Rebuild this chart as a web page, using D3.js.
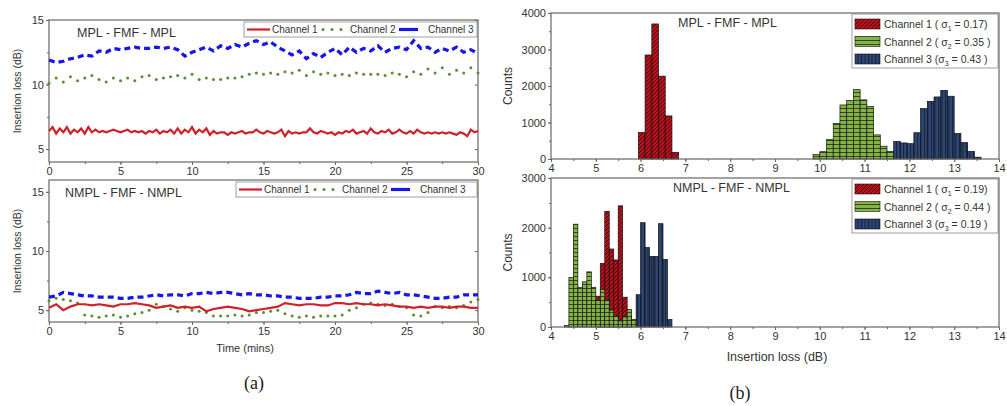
<!DOCTYPE html>
<html>
<head>
<meta charset="utf-8">
<script src="https://cdn.jsdelivr.net/npm/d3@7"></script>
<style>
  body { margin: 0; background: #fff; }
  svg { font-family: 'Liberation Sans', Arial, sans-serif; }
</style>
</head>
<body>
<svg id="chart"></svg>
<script>
//Time series data (insertion loss in dB)
const timeTicks = [0, 5, 10, 15, 20, 25, 30];
const fineStep = 0.25; //sampling of MPL channel 1
const coarseStep = 0.5; //sampling of the other traces

const mplCh1 = [
  6.4, 6.7, 6.2, 6.6, 6.3, 6.7, 6.2, 6.5, 6.3, 6.6, 6.2, 6.7, 6.3,
  6.5, 6.3, 6.4, 6.3, 6.4, 6.5, 6.4, 6.3, 6.4, 6.5, 6.3, 6.4,
  6.3, 6.4, 6.2, 6.4, 6.3, 6.5, 6.2, 6.4, 6.3, 6.5, 6.2, 6.6,
  6.2, 6.5, 6.3, 6.7, 6.2, 6.5, 6.3, 6.6, 6.1, 6.4, 6.2, 6.3,
  6.3, 6.1, 6.3, 6.2, 6.3, 6.4, 6.2, 6.3, 6.3, 6.5, 6.3, 6.2,
  6.4, 6.3, 6.2, 6.3, 6.5, 6.0, 6.4, 6.2, 6.3, 6.2, 6.3, 6.3,
  6.6, 6.3, 6.2, 6.4, 6.3, 6.2, 6.3, 6.1, 6.3, 6.2, 6.4, 6.3,
  6.5, 6.2, 6.3, 6.4, 6.2, 6.6, 6.3, 6.2, 6.4, 6.3, 6.5, 6.2,
  6.3, 6.5, 6.3, 6.2, 6.4, 6.2, 6.5, 6.3, 6.2, 6.3, 6.2, 6.3,
  6.2, 6.3, 6.2, 6.3, 6.2, 6.1, 6.3, 6.2, 6.0, 6.5, 6.3, 6.4
];
const mplCh2 = [
  10.1, 10.5, 10.2, 10.6, 10.3, 10.5, 10.7, 10.4, 10.2, 10.5, 10.3,
  10.5, 10.3, 10.6, 10.7, 10.4, 10.5, 10.6, 10.7, 10.5, 10.8,
  10.4, 10.5, 10.4, 10.4, 10.5, 10.5, 10.6, 10.8, 10.9, 10.8,
  10.9, 10.8, 11.0, 10.9, 11.1, 10.7, 11.0, 10.8, 10.9, 10.7,
  10.8, 10.7, 10.9, 10.8, 10.8, 10.8, 10.7, 10.9, 10.8, 10.6,
  11.0, 10.8, 11.2, 10.9, 11.3, 10.8, 11.1, 10.9, 11.3, 10.9
];
const mplCh3 = [
  11.9, 11.7, 11.8, 12.0, 12.1, 12.3, 12.2, 12.6, 12.5, 12.8, 12.7,
  12.8, 12.9, 12.8, 12.8, 12.9, 12.8, 12.9, 12.7, 12.2, 12.5,
  12.7, 12.9, 12.6, 13.0, 12.8, 13.1, 12.9, 13.2, 13.4, 13.1,
  13.3, 12.9, 12.6, 12.3, 12.6, 12.0, 12.4, 12.1, 12.5, 12.8,
  12.3, 12.9, 12.5, 12.8, 12.6, 13.0, 12.5, 12.8, 12.9, 12.7,
  13.4, 12.8, 12.9, 12.5, 12.8, 12.6, 12.9, 12.5, 12.7, 12.4
];
const nmplCh1 = [
  5.2, 5.5, 5.0, 5.3, 5.5, 5.5, 5.4, 5.5, 5.4, 5.3, 5.5,
  5.5, 5.6, 5.5, 5.4, 5.2, 5.3, 5.4, 5.2, 5.3, 5.2,
  5.3, 4.9, 5.1, 5.2, 5.3, 5.2, 5.1, 4.9, 5.0, 5.1,
  5.2, 5.3, 5.6, 5.5, 5.4, 5.5, 5.5, 5.4, 5.4, 5.6,
  5.6, 5.5, 5.6, 5.5, 5.5, 5.4, 5.5, 5.4, 5.3, 5.3,
  5.2, 5.3, 5.2, 5.3, 5.3, 5.2, 5.3, 5.3, 5.2, 5.2
];
const nmplCh2 = [
  5.8, 6.0, 5.9, 5.8, 5.6, 4.6, 4.5, 4.4, 4.5, 4.6, 4.4,
  4.5, 4.7, 4.8, 5.0, 5.5, 5.3, 5.1, 4.9, 5.2, 5.0,
  4.9, 4.8, 4.5, 4.5, 4.5, 4.6, 4.5, 4.6, 4.8, 4.8,
  4.9, 5.0, 4.7, 4.5, 4.4, 4.5, 4.4, 4.5, 4.5, 4.5,
  4.6, 5.0, 5.2, 5.5, 5.6, 5.5, 5.4, 5.5, 5.3, 5.2,
  4.6, 4.5, 4.8, 5.3, 5.2, 5.3, 5.2, 5.4, 5.7, 5.9
];
const nmplCh3 = [
  6.1, 6.2, 6.5, 6.4, 6.3, 6.2, 6.2, 6.1, 6.1, 6.1, 6.0,
  6.0, 6.1, 6.1, 6.2, 6.3, 6.2, 6.3, 6.3, 6.2, 6.4,
  6.4, 6.5, 6.4, 6.5, 6.5, 6.4, 6.3, 6.4, 6.3, 6.3,
  6.2, 6.2, 6.1, 6.1, 6.0, 6.0, 6.0, 6.1, 6.1, 6.2,
  6.2, 6.3, 6.5, 6.4, 6.4, 6.6, 6.5, 6.4, 6.5, 6.3,
  6.3, 6.2, 6.1, 6.0, 6.0, 6.1, 6.1, 6.3, 6.3, 6.3
];

//Histogram data (counts per bin)
const lossTicks = [4, 5, 6, 7, 8, 9, 10, 11, 12, 13, 14];
const mplBinWidth = 0.15;
const mplHistCh1Start = 5.95;
const mplHistCh1 = [730, 2850, 3700, 2270, 1180, 180];
const mplHistCh2Start = 9.85;
const mplHistCh2 = [120, 200, 530, 970, 1480, 1600, 1900, 1620, 1440, 660, 350, 210];
const mplHistCh3Start = 11.65;
const mplHistCh3 = [480, 440, 420, 720, 1380, 1580, 1700, 1880, 1720, 700, 450, 210, 50];
const nmplBinWidth = 0.1;
const nmplHistCh1Start = 5.0;
const nmplHistCh1 = [620, 1280, 2330, 1570, 1350, 2440, 600, 220];
const nmplHistCh2Start = 4.3;
const nmplHistCh2 = [30, 1000, 2070, 800, 910, 1110, 800, 540, 760, 540, 340, 210, 120, 200, 350, 150];
const nmplHistCh3Start = 5.9;
const nmplHistCh3 = [650, 2100, 1600, 1420, 1420, 2080, 1360, 150];

const mplSigmas = ['0.17', '0.35', '0.43'];
const nmplSigmas = ['0.19', '0.44', '0.19'];

const width = 1007;
const height = 406;
const textColor = '#333';
const frameColor = '#666';

const svg = d3
  .select('#chart')
  .attr('width', width)
  .attr('height', height);

//Hatch patterns for the histogram bars
const defs = svg.append('defs');
function addPattern(id, w, h, fill, d, stroke) {
  const p = defs
    .append('pattern')
    .attr('id', id)
    .attr('patternUnits', 'userSpaceOnUse')
    .attr('width', w)
    .attr('height', h);
  p.append('rect').attr('width', w).attr('height', h).attr('fill', fill);
  p.append('path').attr('d', d).attr('stroke', stroke).attr('stroke-width', 0.8);
}
addPattern('hatchRed', 4, 4, '#b5131b', 'M-1,1 l2,-2 M0,4 l4,-4 M3,5 l2,-2', '#3a0000');
addPattern('hatchGreen', 8, 4, '#84b446', 'M0,0.5 h8', '#1e2b0e');
addPattern('hatchBlue', 3.5, 8, '#2f4672', 'M0.5,0 v8', '#0e182e');

//Shared axis styling
function styleAxis(g) {
  g.select('.domain').remove();
  g.selectAll('line').attr('stroke', frameColor);
  g.selectAll('text').attr('fill', textColor).style('font-size', '11px');
}

function minorTicks(lo, hi, step) {
  return d3.range(lo, hi + step / 2, step);
}

//Left panels: insertion loss vs time
function drawTimePanel(opt) {
  const x = d3.scaleLinear().domain([0, 30]).range([49, 478]);
  const y = d3.scaleLinear().domain(opt.yDomain).range([opt.bottom, opt.top]);
  const g = svg.append('g');

  g.append('g')
    .attr('transform', `translate(0,${opt.bottom})`)
    .call(d3.axisBottom(x).tickValues(minorTicks(0, 30, 2.5)).tickFormat('').tickSize(2))
    .call(styleAxis);
  g.append('g')
    .attr('transform', `translate(0,${opt.bottom})`)
    .call(d3.axisBottom(x).tickValues(timeTicks).tickSize(3).tickPadding(2))
    .call(styleAxis);
  g.append('g')
    .attr('transform', 'translate(49,0)')
    .call(d3.axisLeft(y).tickValues(minorTicks(5, 15, 2.5)).tickFormat('').tickSize(2))
    .call(styleAxis);
  g.append('g')
    .attr('transform', 'translate(49,0)')
    .call(d3.axisLeft(y).tickValues([5, 10, 15]).tickSize(3).tickPadding(2))
    .call(styleAxis);
  g.append('g')
    .attr('transform', 'translate(478,0)')
    .call(d3.axisLeft(y).tickValues([5, 10, 15]).tickFormat('').tickSize(3))
    .call(styleAxis);

  g.append('rect')
    .attr('x', x(0))
    .attr('y', y(opt.yDomain[1]))
    .attr('width', x(30) - x(0))
    .attr('height', y(opt.yDomain[0]) - y(opt.yDomain[1]))
    .attr('fill', 'none')
    .attr('stroke', frameColor)
    .attr('stroke-width', 1.2);

  const line = step =>
    d3
      .line()
      .x((d, i) => x(i * step))
      .y(d => y(d));

  g.append('path')
    .attr('d', line(coarseStep)(opt.ch3))
    .attr('fill', 'none')
    .attr('stroke', '#1616e8')
    .attr('stroke-width', 3.2)
    .attr('stroke-dasharray', '6,4');

  g.selectAll('circle.ch2')
    .data(opt.ch2)
    .enter()
    .append('circle')
    .attr('class', 'ch2')
    .attr('cx', (d, i) => x(i * coarseStep))
    .attr('cy', d => y(d))
    .attr('r', 1.5)
    .attr('fill', '#5e8c36');

  g.append('path')
    .attr('d', line(opt.ch1Step)(opt.ch1))
    .attr('fill', 'none')
    .attr('stroke', '#d0202a')
    .attr('stroke-width', 2.2);

  //Title
  g.append('text')
    .attr('x', opt.titleX)
    .attr('y', opt.top + 17)
    .attr('fill', textColor)
    .style('font-size', '12.5px')
    .text(opt.title);

  //Legend (one row)
  const lx = opt.legendX;
  const ly = opt.top + 2;
  g.append('rect')
    .attr('x', lx)
    .attr('y', ly)
    .attr('width', 477 - lx)
    .attr('height', 15)
    .attr('fill', '#fff')
    .attr('stroke', '#888')
    .attr('stroke-width', 0.8);
  const cy = ly + 7.5;
  g.append('line')
    .attr('x1', lx + 3).attr('x2', lx + 26)
    .attr('y1', cy).attr('y2', cy)
    .attr('stroke', '#d0202a').attr('stroke-width', 2.2);
  [lx + 79, lx + 88, lx + 97].forEach(cx => {
    g.append('circle').attr('cx', cx).attr('cy', cy).attr('r', 1.5).attr('fill', '#5e8c36');
  });
  g.append('line')
    .attr('x1', lx + 155).attr('x2', lx + 174)
    .attr('y1', cy).attr('y2', cy)
    .attr('stroke', '#1616e8').attr('stroke-width', 3.2);
  [['Channel 1', lx + 28], ['Channel 2', lx + 106], ['Channel 3', lx + 184]].forEach(t => {
    g.append('text')
      .attr('x', t[1])
      .attr('y', cy + 3.5)
      .attr('fill', textColor)
      .style('font-size', '10px')
      .text(t[0]);
  });

  g.append('text')
    .attr('transform', `translate(21,${(opt.top + opt.bottom) / 2}) rotate(-90)`)
    .attr('text-anchor', 'middle')
    .attr('fill', textColor)
    .style('font-size', '10.5px')
    .text('Insertion loss (dB)');
}

//Right panels: histograms of insertion loss
function drawHistPanel(opt) {
  const x = d3.scaleLinear().domain([4, 14]).range([551, 999]);
  const y = d3.scaleLinear().domain([0, opt.yMax]).range([opt.bottom, opt.top]);
  const g = svg.append('g');

  opt.series.forEach(s => {
    g.selectAll(null)
      .data(s.counts)
      .enter()
      .append('rect')
      .attr('x', (d, i) => x(s.start + i * opt.binWidth))
      .attr('width', x(4 + opt.binWidth) - x(4))
      .attr('y', d => y(d))
      .attr('height', d => y(0) - y(d))
      .attr('fill', `url(#${s.pattern})`)
      .attr('stroke', '#111')
      .attr('stroke-width', 0.7);
  });

  g.append('g')
    .attr('transform', `translate(0,${opt.bottom})`)
    .call(d3.axisBottom(x).tickValues(minorTicks(4, 14, 0.5)).tickFormat('').tickSize(2))
    .call(styleAxis);
  g.append('g')
    .attr('transform', `translate(0,${opt.bottom})`)
    .call(d3.axisBottom(x).tickValues(lossTicks).tickFormat(d3.format('d')).tickSize(3).tickPadding(2))
    .call(styleAxis);
  g.append('g')
    .attr('transform', 'translate(551,0)')
    .call(d3.axisLeft(y).tickValues(minorTicks(0, opt.yMax, 500)).tickFormat('').tickSize(2))
    .call(styleAxis);
  g.append('g')
    .attr('transform', 'translate(551,0)')
    .call(d3.axisLeft(y).tickValues(minorTicks(0, opt.yMax, 1000)).tickFormat(d3.format('d')).tickSize(3).tickPadding(2))
    .call(styleAxis);

  g.append('rect')
    .attr('x', x(4))
    .attr('y', y(opt.yMax))
    .attr('width', x(14) - x(4))
    .attr('height', y(0) - y(opt.yMax))
    .attr('fill', 'none')
    .attr('stroke', frameColor)
    .attr('stroke-width', 1.2);

  g.append('text')
    .attr('x', opt.titleX)
    .attr('y', opt.top + 14)
    .attr('fill', textColor)
    .style('font-size', '12.5px')
    .text(opt.title);

  //Legend
  const lx = 852;
  const ly = opt.top + 1;
  g.append('rect')
    .attr('x', lx)
    .attr('y', ly)
    .attr('width', 146)
    .attr('height', 54)
    .attr('fill', '#fff')
    .attr('stroke', '#888')
    .attr('stroke-width', 0.8);
  opt.series.forEach((s, i) => {
    const cy = ly + 10 + i * 17.5;
    g.append('rect')
      .attr('x', lx + 3)
      .attr('y', cy - 5)
      .attr('width', 25)
      .attr('height', 10)
      .attr('fill', `url(#${s.pattern})`)
      .attr('stroke', '#111')
      .attr('stroke-width', 0.6);
    const t = g
      .append('text')
      .attr('x', lx + 32)
      .attr('y', cy + 4)
      .attr('fill', textColor)
      .style('font-size', '10.5px');
    t.append('tspan').text(`Channel ${i + 1} ${i === 2 ? ' (' : '( '}`);
    t.append('tspan').text('\u03c3');
    t.append('tspan')
      .attr('dy', 3)
      .style('font-size', '7px')
      .text(i + 1);
    t.append('tspan')
      .attr('dy', -3)
      .text(` = ${opt.sigmas[i]}${i === 0 ? ')' : ' )'}`);
  });

  g.append('text')
    .attr('transform', `translate(512,${(opt.top + opt.bottom) / 2}) rotate(-90)`)
    .attr('text-anchor', 'middle')
    .attr('fill', textColor)
    .style('font-size', '12px')
    .text('Counts');
}

drawTimePanel({
  yDomain: [4, 15], top: 20, bottom: 162,
  ch1: mplCh1, ch1Step: fineStep, ch2: mplCh2, ch3: mplCh3,
  title: 'MPL - FMF - MPL', titleX: 77, legendX: 244
});
drawTimePanel({
  yDomain: [4, 16], top: 180, bottom: 322,
  ch1: nmplCh1, ch1Step: coarseStep, ch2: nmplCh2, ch3: nmplCh3,
  title: 'NMPL - FMF - NMPL', titleX: 65, legendX: 236
});

drawHistPanel({
  yMax: 4000, top: 13, bottom: 159, binWidth: mplBinWidth,
  title: 'MPL - FMF - MPL', titleX: 678, sigmas: mplSigmas,
  series: [
    { start: mplHistCh1Start, counts: mplHistCh1, pattern: 'hatchRed' },
    { start: mplHistCh2Start, counts: mplHistCh2, pattern: 'hatchGreen' },
    { start: mplHistCh3Start, counts: mplHistCh3, pattern: 'hatchBlue' }
  ]
});
drawHistPanel({
  yMax: 3000, top: 178, bottom: 327, binWidth: nmplBinWidth,
  title: 'NMPL - FMF - NMPL', titleX: 673, sigmas: nmplSigmas,
  series: [
    { start: nmplHistCh1Start, counts: nmplHistCh1, pattern: 'hatchRed' },
    { start: nmplHistCh2Start, counts: nmplHistCh2, pattern: 'hatchGreen' },
    { start: nmplHistCh3Start, counts: nmplHistCh3, pattern: 'hatchBlue' }
  ]
});

//Axis titles and panel labels
svg.append('text')
  .attr('x', 245).attr('y', 352)
  .attr('text-anchor', 'middle')
  .attr('fill', textColor)
  .style('font-size', '11px')
  .text('Time (mins)');
svg.append('text')
  .attr('x', 777).attr('y', 361)
  .attr('text-anchor', 'middle')
  .attr('fill', textColor)
  .style('font-size', '12.5px')
  .text('Insertion loss (dB)');
svg.append('text')
  .attr('x', 254).attr('y', 389)
  .attr('text-anchor', 'middle')
  .attr('fill', '#222')
  .style('font-family', "'Liberation Serif', 'Times New Roman', serif")
  .style('font-size', '18px')
  .text('(a)');
svg.append('text')
  .attr('x', 740).attr('y', 399)
  .attr('text-anchor', 'middle')
  .attr('fill', '#222')
  .style('font-family', "'Liberation Serif', 'Times New Roman', serif")
  .style('font-size', '18px')
  .text('(b)');
</script>
</body>
</html>
